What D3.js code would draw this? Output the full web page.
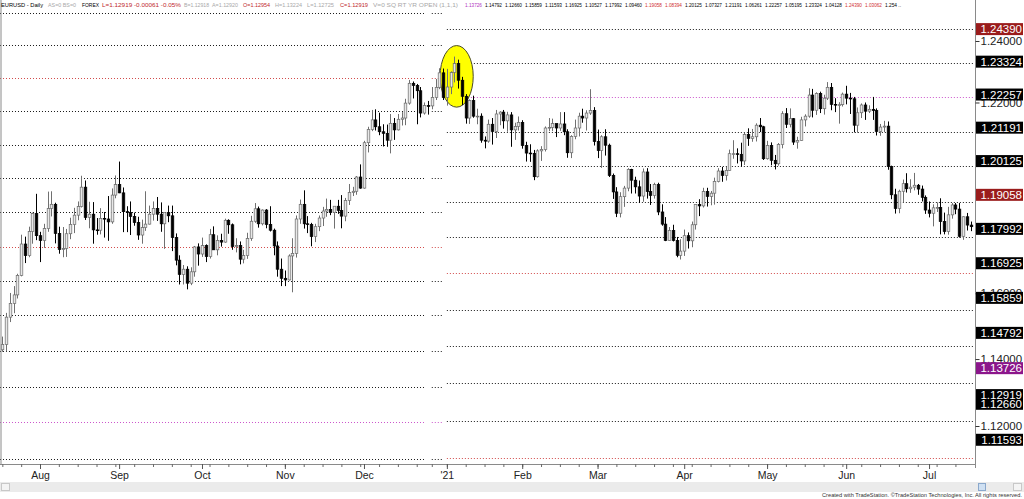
<!DOCTYPE html>
<html><head><meta charset="utf-8">
<script src="https://cdn.jsdelivr.net/npm/d3@7"></script>
<style>
body{margin:0;background:#fff;}
svg{display:block;font-family:Arial,"Liberation Sans",sans-serif;}
</style>
</head><body>
<svg id="chart" width="1024" height="499"></svg>
<script>
// ---------------- DATA ----------------
// Trading-day calendar (weekdays, market closed on these days)
const firstDay = "2020-07-20", lastDay = "2021-07-16";
const closedDays = ["2020-12-25", "2021-01-01"];

// Daily EURUSD candles: [open, high, low, close]
const jul20 = [[1.1428,1.1468,1.1422,1.1444],[1.1444,1.1540,1.1423,1.1527],[1.1527,1.1601,1.1512,1.1569],[1.1569,1.1622,1.1539,1.1595],[1.1595,1.1660,1.1584,1.1655],
[1.1655,1.1781,1.1652,1.1752],[1.1752,1.1775,1.1693,1.1716],[1.1716,1.1806,1.1711,1.1791],[1.1791,1.1850,1.1753,1.1847],[1.1847,1.1909,1.1764,1.1778]];
const aug20 = [[1.1778,1.1790,1.1696,1.1763],[1.1763,1.1815,1.1740,1.1800],[1.1800,1.1916,1.1790,1.1863],[1.1863,1.1917,1.1838,1.1876],[1.1876,1.1881,1.1754,1.1785],
[1.1785,1.1806,1.1722,1.1735],[1.1735,1.1805,1.1711,1.1738],[1.1738,1.1799,1.1712,1.1784],[1.1784,1.1834,1.1767,1.1813],[1.1813,1.1865,1.1786,1.1842],
[1.1842,1.1885,1.1826,1.1869],[1.1869,1.1966,1.1866,1.1930],[1.1930,1.1951,1.1827,1.1835],[1.1835,1.1884,1.1801,1.1845],[1.1845,1.1883,1.1753,1.1796],
[1.1796,1.1833,1.1781,1.1795],[1.1795,1.1864,1.1782,1.1832],[1.1832,1.1852,1.1772,1.1830],[1.1830,1.1902,1.1762,1.1821],[1.1821,1.1926,1.1815,1.1905],
[1.1905,1.1967,1.1895,1.1938]];
const sep20 = [[1.1938,1.2011,1.1911,1.1912],[1.1912,1.1929,1.1789,1.1853],[1.1853,1.1870,1.1789,1.1850],[1.1850,1.1885,1.1780,1.1838],
[1.1838,1.1850,1.1809,1.1819],[1.1819,1.1837,1.1765,1.1780],[1.1780,1.1828,1.1753,1.1803],[1.1803,1.1917,1.1793,1.1814],[1.1814,1.1872,1.1813,1.1845],
[1.1845,1.1885,1.1825,1.1863],[1.1863,1.1899,1.1824,1.1845],[1.1845,1.1882,1.1790,1.1815],[1.1815,1.1836,1.1737,1.1850],[1.1850,1.1872,1.1820,1.1840],
[1.1840,1.1872,1.1730,1.1772],[1.1772,1.1785,1.1686,1.1702],[1.1702,1.1717,1.1627,1.1658],[1.1658,1.1687,1.1627,1.1674],[1.1674,1.1683,1.1612,1.1631],
[1.1631,1.1680,1.1625,1.1666],[1.1666,1.1746,1.1651,1.1743],[1.1743,1.1754,1.1685,1.1721]];
const oct20 = [[1.1721,1.1772,1.1712,1.1747],[1.1747,1.1751,1.1696,1.1713],
[1.1713,1.1799,1.1707,1.1781],[1.1781,1.1807,1.1734,1.1734],[1.1734,1.1779,1.1717,1.1763],[1.1763,1.1784,1.1744,1.1758],[1.1758,1.1831,1.1756,1.1826],
[1.1826,1.1829,1.1784,1.1812],[1.1812,1.1816,1.1734,1.1744],[1.1744,1.1770,1.1726,1.1747],[1.1747,1.1760,1.1689,1.1705],[1.1705,1.1734,1.1692,1.1716],
[1.1716,1.1787,1.1706,1.1769],[1.1769,1.1840,1.1762,1.1823],[1.1823,1.1880,1.1818,1.1862],[1.1862,1.1869,1.1803,1.1815],[1.1815,1.1860,1.1810,1.1858],
[1.1858,1.1861,1.1801,1.1813],[1.1813,1.1870,1.1791,1.1795],[1.1795,1.1800,1.1717,1.1746],[1.1746,1.1760,1.1651,1.1674],[1.1674,1.1707,1.1622,1.1646]];
const nov20 = [[1.1646,1.1670,1.1622,1.1641],[1.1641,1.1720,1.1639,1.1715],[1.1715,1.1770,1.1603,1.1723],[1.1723,1.1841,1.1710,1.1830],[1.1830,1.1891,1.1815,1.1876],
[1.1876,1.1920,1.1800,1.1815],[1.1815,1.1839,1.1786,1.1813],[1.1813,1.1818,1.1745,1.1775],[1.1775,1.1815,1.1758,1.1806],[1.1806,1.1841,1.1792,1.1833],
[1.1833,1.1868,1.1808,1.1855],[1.1855,1.1894,1.1837,1.1860],[1.1860,1.1890,1.1842,1.1850],[1.1850,1.1865,1.1800,1.1870],[1.1870,1.1890,1.1846,1.1857],
[1.1857,1.1905,1.1801,1.1839],[1.1839,1.1896,1.1823,1.1888],[1.1888,1.1940,1.1874,1.1913],[1.1913,1.1931,1.1902,1.1917],[1.1917,1.1965,1.1906,1.1962],
[1.1962,1.2002,1.1925,1.1927]];
const dec20 = [[1.1927,1.2077,1.1925,1.2071],[1.2071,1.2122,1.2040,1.2113],[1.2113,1.2176,1.2108,1.2144],[1.2144,1.2178,1.2110,1.2122],
[1.2122,1.2167,1.2095,1.2106],[1.2106,1.2130,1.2059,1.2101],[1.2101,1.2129,1.2058,1.2079],[1.2079,1.2163,1.2037,1.2133],[1.2133,1.2150,1.2080,1.2112],
[1.2112,1.2163,1.2110,1.2146],[1.2146,1.2169,1.2126,1.2150],[1.2150,1.2212,1.2127,1.2198],[1.2198,1.2273,1.2193,1.2262],[1.2262,1.2268,1.2213,1.2255],
[1.2255,1.2260,1.2130,1.2238],[1.2238,1.2250,1.2152,1.2166],[1.2166,1.2200,1.2161,1.2190],[1.2190,1.2205,1.2161,1.2189],
[1.2189,1.2250,1.2178,1.2216],[1.2216,1.2276,1.2208,1.2249],[1.2249,1.2311,1.2243,1.2296],[1.2296,1.2310,1.2208,1.2216]];
const jan21 = [[1.2216,1.2309,1.2190,1.2250],[1.2250,1.2301,1.2227,1.2297],[1.2297,1.2349,1.2265,1.2326],[1.2326,1.2339,1.2245,1.2272],[1.2272,1.2283,1.2192,1.2220],
[1.2220,1.2227,1.2132,1.2150],[1.2150,1.2210,1.2131,1.2206],[1.2206,1.2222,1.2151,1.2156],[1.2156,1.2180,1.2130,1.2156],[1.2156,1.2165,1.2071,1.2079],
[1.2079,1.2091,1.2053,1.2076],[1.2076,1.2145,1.2071,1.2130],[1.2130,1.2150,1.2065,1.2107],[1.2107,1.2176,1.2086,1.2163],[1.2163,1.2172,1.2127,1.2169],
[1.2169,1.2176,1.2116,1.2141],[1.2141,1.2170,1.2106,1.2160],[1.2160,1.2169,1.2058,1.2112],[1.2112,1.2135,1.2080,1.2123],[1.2123,1.2155,1.2110,1.2136]];
const feb21 = [[1.2136,1.2143,1.2052,1.2062],[1.2062,1.2074,1.2011,1.2038],[1.2038,1.2066,1.2010,1.2037],[1.2037,1.2048,1.1952,1.1963],[1.1963,1.2050,1.1960,1.2045],
[1.2045,1.2060,1.2013,1.2049],[1.2049,1.2123,1.2043,1.2118],[1.2118,1.2150,1.2108,1.2120],[1.2120,1.2148,1.2108,1.2132],[1.2132,1.2132,1.2089,1.2118],
[1.2118,1.2169,1.2109,1.2131],[1.2131,1.2169,1.2095,1.2106],[1.2106,1.2114,1.2023,1.2039],[1.2039,1.2095,1.2022,1.2091],[1.2091,1.2145,1.2082,1.2118],
[1.2118,1.2167,1.2091,1.2156],[1.2156,1.2180,1.2135,1.2150],[1.2150,1.2175,1.2110,1.2166],[1.2166,1.2243,1.2160,1.2174],[1.2174,1.2185,1.2062,1.2075]];
const mar21 = [[1.2075,1.2113,1.2022,1.2046],[1.2046,1.2095,1.1991,1.2090],[1.2090,1.2114,1.2030,1.2063],[1.2063,1.2068,1.1962,1.1967],[1.1967,1.1973,1.1893,1.1915],
[1.1915,1.1930,1.1836,1.1848],[1.1848,1.1914,1.1835,1.1900],[1.1900,1.1934,1.1868,1.1927],[1.1927,1.1990,1.1917,1.1986],[1.1986,1.1988,1.1910,1.1952],
[1.1952,1.1963,1.1910,1.1931],[1.1931,1.1951,1.1880,1.1902],[1.1902,1.1989,1.1884,1.1978],[1.1978,1.1990,1.1894,1.1916],[1.1916,1.1940,1.1874,1.1904],
[1.1904,1.1944,1.1894,1.1938],[1.1938,1.1944,1.1842,1.1852],[1.1852,1.1876,1.1809,1.1814],[1.1814,1.1836,1.1761,1.1763],[1.1763,1.1805,1.1763,1.1794],
[1.1794,1.1812,1.1760,1.1763],[1.1763,1.1774,1.1711,1.1717],[1.1717,1.1767,1.1704,1.1730]];
const apr21 = [[1.1730,1.1797,1.1715,1.1778],[1.1778,1.1788,1.1738,1.1762],
[1.1762,1.1822,1.1742,1.1812],[1.1812,1.1875,1.1797,1.1875],[1.1875,1.1892,1.1839,1.1871],[1.1871,1.1928,1.1866,1.1916],[1.1916,1.1928,1.1869,1.1901],
[1.1901,1.1918,1.1873,1.1911],[1.1911,1.1960,1.1875,1.1948],[1.1948,1.1990,1.1945,1.1981],[1.1981,1.1994,1.1947,1.1967],[1.1967,1.1994,1.1951,1.1983],
[1.1983,1.2049,1.1982,1.2036],[1.2036,1.2079,1.2020,1.2036],[1.2036,1.2053,1.2005,1.2034],[1.2034,1.2071,1.1995,1.2013],[1.2013,1.2103,1.2000,1.2097],
[1.2097,1.2117,1.2061,1.2085],[1.2085,1.2115,1.2074,1.2090],[1.2090,1.2133,1.2075,1.2127],[1.2127,1.2150,1.2105,1.2122],[1.2122,1.2125,1.2016,1.2020]];
const may21 = [[1.2020,1.2077,1.2017,1.2062],[1.2062,1.2072,1.1999,1.2015],[1.2015,1.2032,1.1986,1.2004],[1.2004,1.2070,1.1998,1.2065],[1.2065,1.2172,1.2053,1.2164],
[1.2164,1.2182,1.2118,1.2130],[1.2130,1.2181,1.2120,1.2148],[1.2148,1.2150,1.2064,1.2073],[1.2073,1.2090,1.2052,1.2078],[1.2078,1.2154,1.2077,1.2144],
[1.2144,1.2162,1.2123,1.2156],[1.2156,1.2246,1.2151,1.2224],[1.2224,1.2244,1.2152,1.2175],[1.2175,1.2233,1.2160,1.2229],[1.2229,1.2235,1.2166,1.2180],
[1.2180,1.2225,1.2161,1.2214],[1.2214,1.2266,1.2208,1.2249],[1.2249,1.2263,1.2175,1.2194],[1.2194,1.2214,1.2169,1.2193],[1.2193,1.2201,1.2132,1.2193],
[1.2193,1.2232,1.2187,1.2227]];
const jun21 = [[1.2227,1.2254,1.2194,1.2214],[1.2214,1.2231,1.2163,1.2212],[1.2212,1.2218,1.2104,1.2127],[1.2127,1.2184,1.2103,1.2167],
[1.2167,1.2197,1.2150,1.2192],[1.2192,1.2200,1.2144,1.2172],[1.2172,1.2191,1.2166,1.2178],[1.2178,1.2218,1.2144,1.2174],[1.2174,1.2181,1.2094,1.2107],
[1.2107,1.2131,1.2093,1.2121],[1.2121,1.2141,1.2105,1.2124],[1.2124,1.2139,1.1985,1.1995],[1.1995,1.1998,1.1892,1.1906],[1.1906,1.1925,1.1847,1.1863],
[1.1863,1.1922,1.1848,1.1917],[1.1917,1.1954,1.1882,1.1941],[1.1941,1.1974,1.1913,1.1925],[1.1925,1.1955,1.1912,1.1930],[1.1930,1.1975,1.1920,1.1936],
[1.1936,1.1940,1.1906,1.1924],[1.1924,1.1935,1.1885,1.1898],[1.1898,1.1904,1.1846,1.1858]];
const jul21 = [[1.1858,1.1885,1.1835,1.1848],[1.1848,1.1876,1.1807,1.1865],
[1.1865,1.1882,1.1852,1.1866],[1.1866,1.1895,1.1782,1.1822],[1.1822,1.1850,1.1782,1.1791],[1.1791,1.1868,1.1781,1.1843],[1.1843,1.1880,1.1831,1.1874],
[1.1874,1.1880,1.1845,1.1861],[1.1861,1.1880,1.1772,1.1776],[1.1776,1.1838,1.1765,1.1837],[1.1837,1.1849,1.1794,1.1811],[1.1811,1.1822,1.1792,1.1806]];

// Horizontal price levels (2020 set and 2021 set)
const levels2020 = [1.24921,1.23869,1.22783,1.21736,1.20638,1.19581,1.18520,1.17437,1.16386,1.15321,1.14253,1.13170,1.12110,1.11029];
const levels2020Kind = ["k","k","r","k","k","k","k","r","k","k","k","k","m","k"];
const levels2021 = [1.24394,1.23291,1.22188,1.21062,1.19969,1.18833,1.17749,1.16623,1.15488,1.14395,1.13280,1.12148,1.11059];
const levels2021Kind = ["k","k","m","k","k","k","k","r","k","k","k","k","r"];
// bar-index spans over which each level set is plotted
const spans2020 = [[-0.62, 112], [114, 117]];
const spans2021 = [[118, 257.9]];

// Right-axis price tags
const tagValues = [1.24390,1.23324,1.22257,1.21191,1.20125,1.19058,1.17992,1.16925,1.15859,1.14792,1.13726,1.12660,1.12919,1.11593];
const tagKind   = ["r","k","k","k","k","r","k","k","k","k","p","k","k","k"];
const axisTicks = [1.12,1.14,1.16,1.22,1.24];   // 1.18 / 1.20 sit fully under tags
const monthLabels = ["Aug","Sep","Oct","Nov","Dec","'21","Feb","Mar","Apr","May","Jun","Jul"];

// Highlight ellipse (bar-index range, price range)
const highlightBars = [116.2, 125.0];
const highlightPrices = [1.2185, 1.2385];

// Header strip: text, left x, width
const header = [
  {t:"EURUSD - Daily", x:1, w:42, c:"#000"},
  {t:"AS=0  BS=0", x:48, w:28, c:"#a8a8a8"},
  {t:"FOREX", x:82, w:17, c:"#000"},
  {t:"L=1.12919  -0.00061  -0.05%", x:102, w:79, c:"#c0282d"},
  {t:"B=1.12918", x:184, w:25, c:"#a8a8a8"},
  {t:"A=1.12920", x:212, w:26, c:"#a8a8a8"},
  {t:"O=1.12954", x:243, w:27, c:"#c0282d"},
  {t:"H=1.13224", x:275, w:27, c:"#a8a8a8"},
  {t:"L=1.12725", x:307, w:27, c:"#a8a8a8"},
  {t:"C=1.12919", x:340, w:28, c:"#c0282d"},
  {t:"V=0  SQ RT YR OPEN (1,1,1)", x:373, w:85, c:"#a8a8a8"}
];
const headerLevels = ["1.13726","1.14792","1.12660","1.15859","1.11593","1.16925","1.10527","1.17992","1.09460",
  "1.19058","1.08394","1.20125","1.07327","1.21191","1.06261","1.22257","1.05195","1.23324","1.04128","1.24390","1.03062","1.254 .."];
const headerLevelKind = ["p","k","k","k","k","k","k","k","k","r","r","k","k","k","k","k","k","k","k","r","r","k"];

// ---------------- RENDER ----------------
const svg = d3.select("#chart");
const W = 1024, H = 499;
const plotR = 975.5, plotT = 8, plotB = 464;
const col = {k:"#1a1a1a", r:"#d24a4a", m:"#cc55cc", p:"#8a1a8a"};
const tagFill = {k:"#000", r:"#9a1c1c", p:"#8b168b"};

svg.append("rect").attr("width", W).attr("height", H).attr("fill", "#fff");

const parse = d3.timeParse("%Y-%m-%d"), fmt = d3.timeFormat("%Y-%m-%d");
const days = d3.timeDay.range(parse(firstDay), d3.timeDay.offset(parse(lastDay), 1))
  .filter(d => d.getDay() > 0 && d.getDay() < 6 && !closedDays.includes(fmt(d)));
const rows = [].concat(jul20, aug20, sep20, oct20, nov20, dec20, jan21, feb21, mar21, apr21, may21, jun21, jul21);
const candles = rows.map((r, i) => ({i, date: days[i], o: r[0], h: r[1], l: r[2], c: r[3]}));

const x = d3.scaleLinear().domain([0, days.length - 1]).range([2.33, 970.5]);
const y = d3.scaleLog().domain([1.10881, 1.25086]).range([plotB, plotT]);

// level lines
function drawLevels(levels, kinds, spans) {
  const g = svg.append("g");
  spans.forEach(([a, b]) => {
    g.selectAll(null).data(levels).join("line")
      .attr("x1", x(a)).attr("x2", x(b))
      .attr("y1", d => Math.round(y(d)) + 0.5).attr("y2", d => Math.round(y(d)) + 0.5)
      .attr("stroke", (d, i) => col[kinds[i]])
      .attr("stroke-width", 1)
      .attr("stroke-dasharray", "1,2");
  });
}
drawLevels(levels2020, levels2020Kind, spans2020);
drawLevels(levels2021, levels2021Kind, spans2021);

// highlight ellipse
svg.append("ellipse")
  .attr("cx", (x(highlightBars[0]) + x(highlightBars[1])) / 2)
  .attr("cy", (y(highlightPrices[0]) + y(highlightPrices[1])) / 2)
  .attr("rx", (x(highlightBars[1]) - x(highlightBars[0])) / 2)
  .attr("ry", (y(highlightPrices[0]) - y(highlightPrices[1])) / 2)
  .attr("fill", "#ffff00").attr("stroke", "#4a4a2a").attr("stroke-width", 1);

// candles
const cg = svg.append("g");
const bw = 2.6;
cg.selectAll("line.w").data(candles).join("line")
  .attr("x1", d => Math.round(x(d.i)) + 0.5).attr("x2", d => Math.round(x(d.i)) + 0.5)
  .attr("y1", d => y(d.h)).attr("y2", d => y(d.l))
  .attr("stroke", d => d.c >= d.o ? "#707070" : "#000").attr("stroke-width", 1);
cg.selectAll("rect.b").data(candles).join("rect")
  .attr("x", d => Math.round(x(d.i)) + 0.5 - bw / 2)
  .attr("y", d => y(Math.max(d.o, d.c)))
  .attr("width", bw)
  .attr("height", d => Math.max(0.8, y(Math.min(d.o, d.c)) - y(Math.max(d.o, d.c))))
  .attr("fill", d => d.c >= d.o ? "#e8e8e8" : "#000")
  .attr("stroke", d => d.c >= d.o ? "#6a6a6a" : "#000")
  .attr("stroke-width", 0.7);

// frame
svg.append("line").attr("x1", 1).attr("x2", 1).attr("y1", 0).attr("y2", plotB).attr("stroke", "#8a8a8a");
svg.append("line").attr("x1", plotR).attr("x2", plotR).attr("y1", 0).attr("y2", plotB + 4).attr("stroke", "#8a8a8a");

// bottom axis
const mondays = candles.filter(d => d.date.getDay() === 1).map(d => d.i);
const monthStarts = candles.filter((d, i) => i > 0 && d.date.getMonth() !== candles[i - 1].date.getMonth()).map(d => d.i);
const ax = svg.append("g").attr("transform", `translate(0,${plotB})`);
ax.call(d3.axisBottom(x).tickValues(mondays).tickSize(3).tickFormat(""));
ax.select(".domain").attr("d", `M0,0.5H${plotR}`).attr("stroke", "#8a8a8a");
ax.selectAll(".tick line").attr("stroke", "#6a6a6a");
const ax2 = svg.append("g").attr("transform", `translate(0,${plotB})`);
ax2.call(d3.axisBottom(x).tickValues(monthStarts).tickSize(5).tickFormat((d, i) => monthLabels[i]));
ax2.select(".domain").remove();
ax2.selectAll(".tick line").attr("stroke", "#555");
ax2.selectAll(".tick text").attr("y", 8).attr("font-size", 10.5).attr("fill", "#222")
  .attr("font-family", "Arial, 'Liberation Sans', sans-serif");

// right axis ticks
const ay = svg.append("g").attr("transform", `translate(${plotR},0)`);
ay.call(d3.axisRight(y).tickValues(axisTicks).tickSize(4).tickPadding(1).tickFormat(d3.format(".5f")));
ay.select(".domain").remove();
ay.selectAll(".tick line").attr("stroke", "#333");
ay.selectAll(".tick text").attr("font-size", 11.5).attr("fill", "#222")
  .attr("font-family", "Arial, 'Liberation Sans', sans-serif");

// price tags
const tg = svg.append("g");
const tags = tagValues.map((v, i) => ({v, k: tagKind[i]}));
tg.selectAll("rect").data(tags).join("rect")
  .attr("x", plotR + 0.5).attr("width", W - plotR - 1.5)
  .attr("y", d => y(d.v) - 6).attr("height", 12)
  .attr("fill", d => tagFill[d.k]);
tg.selectAll("text").data(tags).join("text")
  .attr("x", W - 2).attr("y", d => y(d.v) + 4.2)
  .attr("text-anchor", "end").attr("font-size", 11.5).attr("fill", "#fff")
  .text(d => d.v.toFixed(5));

// header text
const hg = svg.append("g").attr("font-size", 5.6);
hg.selectAll("text.h").data(header).join("text")
  .attr("x", d => d.x).attr("y", 7).attr("fill", d => d.c)
  .attr("textLength", d => d.w).attr("lengthAdjust", "spacingAndGlyphs")
  .text(d => d.t);
hg.selectAll("text.lv").data(headerLevels).join("text")
  .attr("x", (d, i) => 465 + i * 20).attr("y", 7)
  .attr("fill", (d, i) => ({k:"#000", r:"#d03030", p:"#b030c0"})[headerLevelKind[i]])
  .attr("textLength", (d, i) => i === headerLevels.length - 1 ? 16 : 17).attr("lengthAdjust", "spacingAndGlyphs")
  .text(d => d);

// scrollbar strip
svg.append("rect").attr("x", 0).attr("y", 482).attr("width", W).attr("height", 10).attr("fill", "#ebebeb");
svg.append("rect").attr("x", 1.5).attr("y", 483.5).attr("width", 8).attr("height", 7).attr("fill", "#f4f4f4").attr("stroke", "#c8c8c8");
svg.append("rect").attr("x", 978.5).attr("y", 483.5).attr("width", 7).attr("height", 7).attr("fill", "#cfe0f2").attr("stroke", "#8aa8cc");
svg.append("rect").attr("x", 1013.5).attr("y", 483.5).attr("width", 8).attr("height", 7).attr("fill", "#f4f4f4").attr("stroke", "#c8c8c8");

// credit
svg.append("text").attr("x", 1022).attr("y", 496.8).attr("text-anchor", "end")
  .attr("font-size", 5.4).attr("fill", "#333")
  .attr("textLength", 200).attr("lengthAdjust", "spacingAndGlyphs")
  .text("Created with TradeStation. \u00A9TradeStation Technologies, Inc. All rights reserved.");
</script>
</body></html>
